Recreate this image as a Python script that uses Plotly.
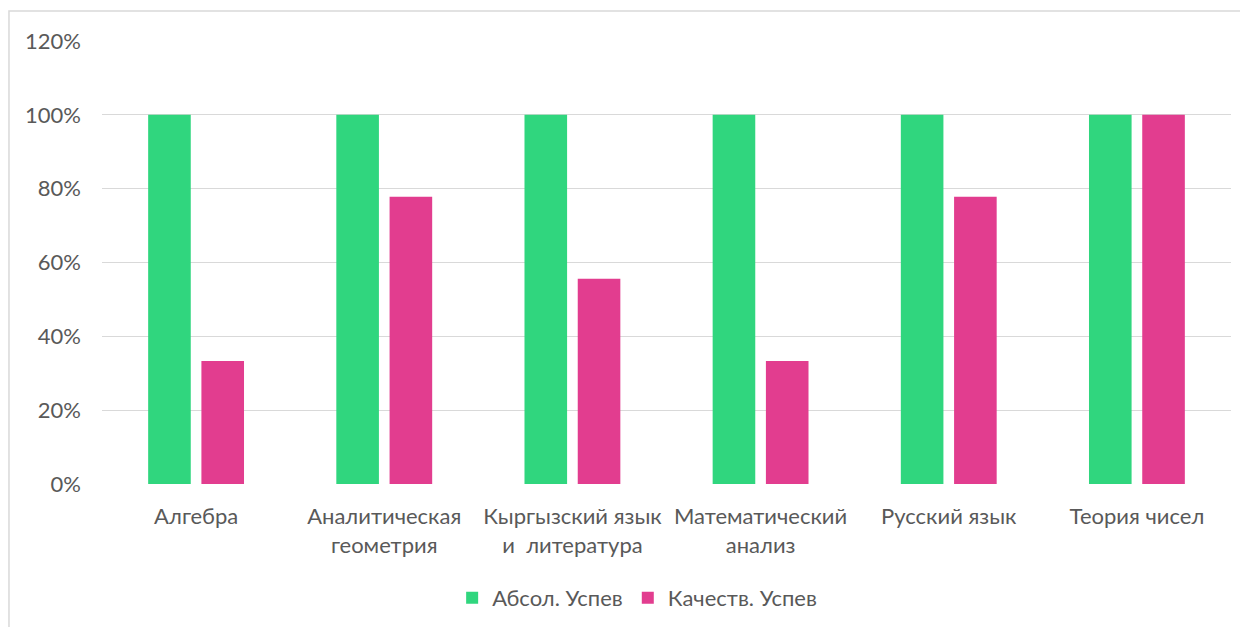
import plotly.graph_objects as go

categories = ["Алгебра", "Аналитическая<br>геометрия", "Кыргызский язык<br>и  литература",
              "Математический<br>анализ", "Русский язык", "Теория чисел"]
abs_values = [1.0, 1.0, 1.0, 1.0, 1.0, 1.0]
qual_values = [0.333, 0.778, 0.556, 0.333, 0.778, 1.0]
series_names = ["Абсол. Успев", "Качеств. Успев"]

FONT = "Lato"
TXT = "#595959"

fig = go.Figure()
fig.add_trace(go.Bar(x=categories, y=abs_values, name=series_names[0],
                     marker=dict(color="#30D67E", line=dict(width=0))))
fig.add_trace(go.Bar(x=categories, y=qual_values, name=series_names[1],
                     marker=dict(color="#E23D8F", line=dict(width=0))))

fig.update_layout(
    width=1240, height=619,
    margin=dict(l=94, r=17, t=33, b=143, autoexpand=False),
    paper_bgcolor="white", plot_bgcolor="white",
    barmode="group", bargap=0.434, bargroupgap=0.2,
    font=dict(family=FONT, size=22, color=TXT),
    showlegend=True,
    legend=dict(orientation="h", x=0.474, xanchor="center", y=-0.257, yanchor="middle",
                font=dict(family=FONT, size=22, color=TXT), itemwidth=30,
                traceorder="normal"),
    shapes=[dict(type="rect", xref="paper", yref="paper", x0=-0.0824, x1=1.2,
                 y0=-0.5, y1=1.0677, line=dict(color="#D9D9D9", width=1.5),
                 fillcolor="rgba(0,0,0,0)", layer="below")],
)
fig.update_xaxes(showgrid=False, showline=False, ticks="", tickfont=dict(size=22, color=TXT),
                 tickangle=0, automargin=False, ticklabelstandoff=17)
fig.update_yaxes(range=[0, 1.2], dtick=0.2, tickformat=".0%", showgrid=True,
                 gridcolor="#D9D9D9", gridwidth=1.2, zeroline=False, showline=False,
                 tickfont=dict(size=22, color=TXT), ticklabelstandoff=20, automargin=False)

fig.write_html("out.html")
